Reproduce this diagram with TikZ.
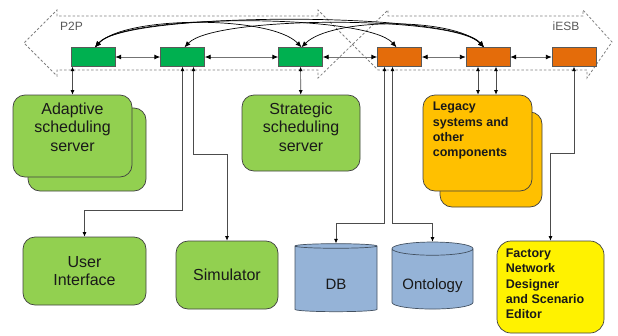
\documentclass[tikz,border=0pt]{standalone}
\usepackage{fontspec}
\setmainfont{Liberation Sans}
\usetikzlibrary{positioning,shapes.geometric,arrows.meta}

\definecolor{ptpgreen}{RGB}{0,176,80}
\definecolor{esborange}{RGB}{228,108,10}
\definecolor{srvgreen}{RGB}{146,208,80}
\definecolor{legamber}{RGB}{255,192,0}
\definecolor{dbblue}{RGB}{149,179,215}

\begin{document}
\begin{tikzpicture}[x=1pt, y=-1pt, node distance=8pt]
\tikzstyle{every node}=[font=\fontsize{16}{18.5}\selectfont, text=black!90]
\tikzstyle{agent}=[draw=black!65, rectangle, minimum width=44pt, minimum height=19pt, inner sep=0pt]
\tikzstyle{server}=[draw=black!75, fill=srvgreen, rectangle, rounded corners=12pt, inner sep=0pt, line width=0.7pt]
\tikzstyle{store}=[draw=black!55!dbblue, fill=dbblue, cylinder, shape border rotate=90, aspect=0.22, inner sep=0pt, line width=0.7pt, font=\fontsize{15}{17}\selectfont, text height=24pt, text depth=3pt]
\tikzstyle{boldtext}=[font=\fontsize{12.5}{15.3}\selectfont\bfseries, align=left, inner sep=0pt]
\tikzstyle{band}=[draw=black!50, dash pattern=on 2.5pt off 2pt, line width=0.8pt]
\tikzstyle{hlink}=[draw=black!55, line width=0.9pt, arrows={Latex[length=6pt,width=5pt,color=black]-Latex[length=6pt,width=5pt,color=black]}]
\tikzstyle{vlink}=[draw=black!70, line width=0.7pt, arrows={Latex[length=4.5pt,width=4pt,color=black]-Latex[length=4.5pt,width=4pt,color=black]}]
\tikzstyle{clink}=[draw=black, line width=0.7pt, arrows={Latex[length=6pt,width=5pt]-Latex[length=6pt,width=5pt]}]
\useasboundingbox (0,0) rectangle (618,335);

% the two buses
\draw[band] (318,16) -- (57,16) -- (57,10) -- (24,43) -- (57,76) -- (57,70) -- (318,70) -- (318,78) -- (388,10) -- (388,16) -- (583,16) -- (583,10) -- (612,42) -- (587,78) -- (587,70) -- (378,70) -- (318,10) -- cycle;
\node[font=\fontsize{12}{14}\selectfont, text=black!65, inner sep=0pt, anchor=west] (ptp) at (60,26) {P2P};
\node[font=\fontsize{12}{14}\selectfont, text=black!65, inner sep=0pt] (esb) at (566,26) {iESB};

   \node[agent, fill=ptpgreen](g1) at (93,57) {};
   \node[agent, fill=ptpgreen](g2) at (182.5,57) {};
   \node[agent, fill=ptpgreen](g3) at (300.5,57) {};
   \node[agent, fill=esborange](o1) at (399.5,57) {};
   \node[agent, fill=esborange](o2) at (488,57) {};
   \node[agent, fill=esborange](o3) at (574,57) {};

\node[server, minimum width=118pt, minimum height=83pt](adapt-b) at (87,149.5) {};
\node[server, minimum width=119pt, minimum height=82pt](adapt) at (72.5,136) {};
\node[align=center, inner sep=0pt](adapt-t) [below=8pt of adapt.north]{Adaptive\\scheduling\\server};
\node[server, minimum width=118pt, minimum height=76pt](strat) at (301,133) {};
\node[align=center, inner sep=0pt](strat-t) [below=8pt of strat.north]{Strategic\\scheduling\\server};
\node[server, minimum width=123pt, minimum height=68pt, align=center](ui) at (84.5,271) {User\\Interface};
\node[server, minimum width=102pt, minimum height=68pt](sim) at (227,275) {Simulator};

\node[server, fill=legamber, minimum width=102pt, minimum height=95pt](leg-b) at (491,159.5) {};
\node[server, fill=legamber, minimum width=109pt, minimum height=96pt](leg) at (477.5,143) {};
\node[boldtext](leg-t) [below right=7.5pt and 10pt of leg.north west]{Legacy\\systems and\\other\\components};
\node[server, fill=yellow, rounded corners=14pt, minimum width=107pt, minimum height=92pt](fac) at (550.5,287) {};
\node[boldtext](fac-t) [below right=8pt and 9pt of fac.north west]{Factory\\Network\\Designer\\and Scenario\\Editor};

\node[store, minimum width=82pt, minimum height=68pt](db) at (336,279) {DB};
\node[store, minimum width=81pt, minimum height=67pt](onto) at (432.5,279) {Ontology};

% neighbours on the bus
\path[hlink](g1) edge (g2);
\path[hlink](g2) edge (g3);
\path[hlink](g3) edge (o1);
\path[hlink](o1) edge (o2);
\path[hlink](o2) edge (o3);

% links over the bus
\draw[clink] ([xshift=2pt]g1.north) .. controls +(30,-32) and +(-30,-32) .. ([xshift=1pt]g3.north);
\draw[clink] ([xshift=2pt]g1.north) .. controls +(30,-34) and +(-30,-34) .. ([xshift=-3pt]o1.north);
\draw[clink] ([xshift=2pt]g1.north) .. controls +(30,-36) and +(-30,-36) .. ([xshift=-4pt]o2.north);
\draw[clink] ([xshift=2pt]g2.north) .. controls +(30,-32) and +(-30,-32) .. ([xshift=-4pt]o2.north);
\draw[clink] ([xshift=1pt]g3.north) .. controls +(30,-30) and +(-30,-30) .. ([xshift=-4pt]o2.north);

% links to the components
\draw[vlink] (adapt.north) -- (adapt.north |- g1.south);
\path[vlink](g3) edge (strat);
\draw[vlink] (g2.south) -- ++(0,144) -| (ui.north);
\draw[vlink] ([xshift=11pt]g2.south) -- ++(0,88) -| (sim.north);
\draw[vlink] ([xshift=-15pt]o1.south) -- ++(0,157) -| (db.north);
\draw[vlink] ([xshift=-7pt]o1.south) -- ++(0,157) -| (onto.north);
\draw[vlink] ([xshift=-10pt]o2.south) -- ([xshift=-10pt]o2.south |- leg.north);
\draw[vlink] ([xshift=8pt]o2.south) -- ([xshift=8pt]o2.south |- leg.north);
\draw[vlink] (o3.south) -- ++(0,87) -| (fac.north);

 \end{tikzpicture}
\end{document}
